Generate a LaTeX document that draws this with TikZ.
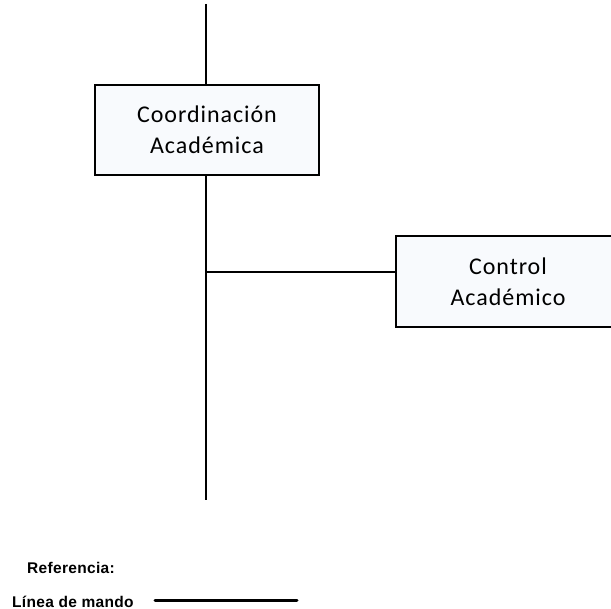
\documentclass[tikz,border=0pt]{standalone}
\usepackage{fontspec}
\setmainfont{Carlito}
\newfontfamily\unitfont[LetterSpace=4]{Carlito}
\newfontfamily\legendfont[LetterSpace=2]{Liberation Sans}
\begin{document}
\begin{tikzpicture}[x=1pt,y=-1pt,
  unitbox/.style={draw=black, line width=2pt, fill=boxfill,
    minimum width=224pt, minimum height=90pt, inner sep=0pt,
    align=center, font=\unitfont\fontsize{24}{31}\selectfont},
  mandoline/.style={draw=black, line width=2pt},
  legendtext/.style={font=\legendfont\bfseries\fontsize{15.5}{18}\selectfont, inner sep=0pt},
]
\definecolor{boxfill}{RGB}{248,250,253}
\useasboundingbox (0,0) rectangle (611,609);
\clip (0,0) rectangle (611,609);

% organisational units
\node[unitbox] (coord) at (207,130) {Coordinación\\Académica};
\node[unitbox, minimum height=91pt] (ctrl) at (508,281.5) {Control\\Académico};

% command line
\coordinate (top) at (206,4);
\coordinate (bottom) at (206,500);
\coordinate (branch) at (206,272);
\draw[mandoline] (top) -- (top |- coord.north);
\draw[mandoline] (bottom |- coord.south) -- (bottom);
\draw[mandoline] (branch) -- (branch -| ctrl.west);

% legend
\node[legendtext, anchor=base west] (ref) at (27,573) {Referencia:};
\node[legendtext, anchor=base west] (mando) at (12,607) {Línea de mando};
\coordinate (legA) at (155,600);
\coordinate (legB) at (297,600);
\draw[black, line width=3pt, line cap=round] (legA) -- (legB);
\end{tikzpicture}
\end{document}
